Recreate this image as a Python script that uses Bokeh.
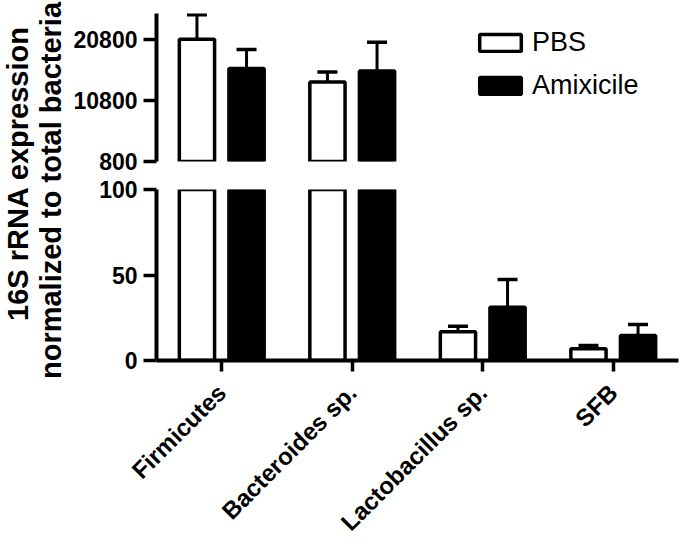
from math import pi
from bokeh.plotting import figure
from bokeh.layouts import row, column
from bokeh.models import (FactorRange, Range1d, FixedTicker, ColumnDataSource, Label,
                          CDSView, BooleanFilter)
from bokeh.transform import dodge
from bokeh.embed import file_html
from bokeh.resources import INLINE

# ---- data ----
categories = ["Firmicutes", "Bacteroides sp.", "Lactobacillus sp.", "SFB"]
series = ["PBS", "Amixicile"]
pbs_mean = [20800, 13800, 16.8, 6.8]
pbs_sem = [4000, 1650, 3.2, 2.0]
amix_mean = [16000, 15600, 31.2, 14.6]
amix_sem = [3100, 4700, 16.2, 6.4]
top_ticks = [800, 10800, 20800]
bottom_ticks = [0, 50, 100]
top_limits = [800, 25000]
bottom_limits = [0, 100]
y_title = ["16S rRNA expression", "normalized to total bacteria"]

src = ColumnDataSource(dict(
    cat=categories,
    pbs=pbs_mean,
    pbs_hi=[m + e for m, e in zip(pbs_mean, pbs_sem)],
    amix=amix_mean,
    amix_hi=[m + e for m, e in zip(amix_mean, amix_sem)],
))

FONT = "Liberation Sans"
OFF = 0.19
BW = 0.27
LW = 3.5
LAB_W = 68

xr = FactorRange(factors=categories, range_padding=0)


def style_axis(ax):
    ax.axis_line_width = 4
    ax.axis_line_color = "black"
    ax.major_tick_line_width = 3.5
    ax.major_tick_line_color = "black"
    ax.major_tick_out = 13
    ax.major_tick_in = 0
    ax.minor_tick_line_color = None
    ax.major_label_text_font = FONT
    ax.major_label_text_font_style = "bold"
    ax.major_label_text_font_size = "23px"
    ax.major_label_text_color = "black"
    ax.major_label_standoff = 6


def draw(p, lo_limit, legend):
    kw_p = dict(legend_label=series[0]) if legend else {}
    kw_a = dict(legend_label=series[1]) if legend else {}
    view_p = CDSView(filter=BooleanFilter([v > lo_limit for v in pbs_mean]))
    view_a = CDSView(filter=BooleanFilter([v > lo_limit for v in amix_mean]))
    p.vbar(x=dodge("cat", -OFF, range=xr), top="pbs", bottom=0, width=BW,
           source=src, view=view_p, fill_color="white", line_color="black",
           line_width=LW, **kw_p)
    p.vbar(x=dodge("cat", OFF, range=xr), top="amix", bottom=0, width=BW,
           source=src, view=view_a, fill_color="black", line_color="black",
           line_width=LW, **kw_a)
    for off, lo, hi, view in ((-OFF, "pbs", "pbs_hi", view_p), (OFF, "amix", "amix_hi", view_a)):
        p.segment(x0=dodge("cat", off, range=xr), y0=lo, x1=dodge("cat", off, range=xr), y1=hi,
                  source=src, view=view, line_color="black", line_width=3)
        p.scatter(x=dodge("cat", off, range=xr), y=hi, source=src, view=view, marker="dash",
                  size=20, line_color="black", line_width=3.5)


# ---- top (broken) segment ----
top = figure(width=680 - LAB_W, height=175, x_range=xr, y_range=Range1d(*top_limits),
             output_backend="svg", toolbar_location=None, x_axis_location=None,
             min_border_left=156 - LAB_W, min_border_right=2, min_border_top=13,
             min_border_bottom=14)
draw(top, top_limits[0], True)
top.yaxis.ticker = FixedTicker(ticks=top_ticks)
style_axis(top.yaxis[0])
top.grid.visible = False
top.outline_line_color = None
lg = top.legend[0]
lg.location = (318, 60)
lg.margin = 0
lg.padding = 0
lg.spacing = 12
lg.glyph_width = 52
lg.glyph_height = 21
lg.label_standoff = 6
lg.label_text_font = FONT
lg.label_text_font_size = "27px"
lg.label_text_color = "black"
lg.border_line_color = None
lg.background_fill_alpha = 0

# ---- bottom segment ----
bot = figure(width=680 - LAB_W, height=373, x_range=xr, y_range=Range1d(*bottom_limits),
             output_backend="svg", toolbar_location=None,
             min_border_left=156 - LAB_W, min_border_right=2, min_border_top=14,
             min_border_bottom=188)
draw(bot, -1, False)
bot.yaxis.ticker = FixedTicker(ticks=bottom_ticks)
style_axis(bot.yaxis[0])
style_axis(bot.xaxis[0])
bot.xaxis.major_tick_out = 11
bot.xaxis.major_label_orientation = pi / 4
bot.xaxis.major_label_text_font_size = "24px"
bot.xaxis.major_label_standoff = 17
bot.grid.visible = False
bot.outline_line_color = None

# ---- shared y-axis title ----
lab = figure(width=LAB_W, height=548, x_range=Range1d(0, LAB_W), y_range=Range1d(0, 548),
             output_backend="svg", toolbar_location=None, x_axis_location=None,
             y_axis_location=None, min_border=0)
lab.outline_line_color = None
lab.grid.visible = False
for t, xm, yc in zip(y_title, (17, 50), (375, 358)):
    lab.add_layout(Label(x=xm, y=yc, text=t, angle=pi / 2, text_align="center",
                         text_baseline="middle", text_font=FONT, text_font_style="bold",
                         text_font_size="29px", text_color="black"))

p = row(lab, column(top, bot))
open("out.html", "w").write(file_html(p, INLINE))
